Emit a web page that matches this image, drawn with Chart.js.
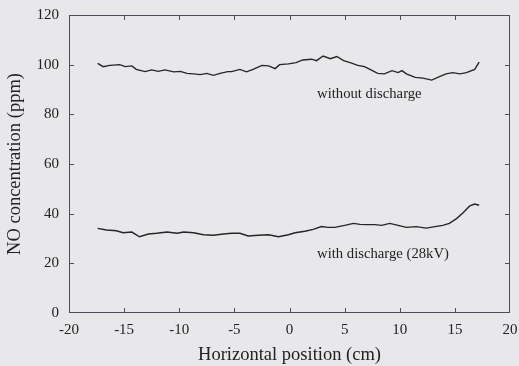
<!DOCTYPE html>
<html>
<head>
<meta charset="utf-8">
<script src="https://cdn.jsdelivr.net/npm/chart.js@4.4.1/dist/chart.umd.min.js"></script>
<style>
  html, body { margin: 0; padding: 0; background: #e8e8eb; }
  canvas { display: block; }
</style>
</head>
<body>
<canvas id="c" width="519" height="366"></canvas>
<script>
// ---- data ----
const upperX = [-17.4,-16.9,-16.3,-15.4,-14.9,-14.3,-13.9,-13.1,-12.5,-11.9,-11.3,-10.5,-9.9,-9.3,-8.7,-8.1,-7.5,-6.9,-6.3,-5.6,-5.25,-4.5,-3.9,-3.3,-2.5,-1.9,-1.3,-0.9,-0.1,0.6,1.2,2.0,2.45,3.05,3.7,4.3,4.9,5.5,6.2,6.8,7.3,8.0,8.6,9.3,9.85,10.2,10.6,11.4,12.1,12.9,13.6,14.2,14.8,15.45,16.05,16.8,17.2];
const upperY = [100.5,99.2,99.7,100,99.2,99.5,98.1,97.2,97.9,97.3,97.9,97.1,97.3,96.5,96.3,96,96.5,95.7,96.5,97.2,97.2,98.1,97.1,98.1,99.7,99.5,98.4,100,100.3,100.8,101.9,102.2,101.6,103.5,102.4,103.3,101.6,100.8,99.7,99.2,98.1,96.5,96.3,97.6,96.8,97.6,96.3,94.9,94.6,93.8,95.2,96.3,96.8,96.3,96.8,98.1,101.0];
const lowerX = [-17.4,-16.6,-15.7,-15.1,-14.3,-13.6,-12.8,-12.05,-11.1,-10.2,-9.6,-8.7,-7.8,-6.9,-6.0,-5.25,-4.5,-3.75,-2.85,-1.9,-1.0,-0.1,0.5,1.4,2.15,2.9,3.5,4.1,5.0,5.8,6.4,7.0,7.75,8.35,9.1,9.85,10.6,11.5,12.4,13.2,13.9,14.5,15.15,15.75,16.35,16.8,17.2];
const lowerY = [34.1,33.4,33.1,32.3,32.6,30.7,31.8,32.1,32.6,32.1,32.6,32.3,31.5,31.3,31.8,32.1,32.1,31.0,31.3,31.5,30.7,31.5,32.3,32.9,33.7,34.8,34.5,34.5,35.3,36.1,35.7,35.6,35.6,35.3,36.1,35.3,34.5,34.8,34.2,34.8,35.3,36.1,38.0,40.4,43.1,43.9,43.4];
const seriesNames = ["without discharge", "with discharge (28kV)"];
const labelX = [2.5, 2.5];
const labelY = [88.2, 23.8];
const xTitle = "Horizontal position (cm)";
const yTitle = "NO concentration (ppm)";

const SERIF = '"Liberation Serif", "DejaVu Serif", serif';
const INK = '#222222';

function pts(xs, ys) { return xs.map((x, i) => ({ x: x, y: ys[i] })); }

const framePlugin = {
  id: 'frame',
  beforeDraw(chart) {
    const ctx = chart.ctx;
    ctx.save();
    ctx.fillStyle = '#e8e8eb';
    ctx.fillRect(0, 0, chart.width, chart.height);
    ctx.restore();
  },
  afterDraw(chart) {
    const ctx = chart.ctx;
    const a = chart.chartArea;
    const xs = chart.scales.x, ys = chart.scales.y;
    ctx.save();
    ctx.strokeStyle = '#4a4e58';
    ctx.lineWidth = 1;
    ctx.strokeRect(Math.round(a.left) + 0.5, Math.round(a.top) + 0.5, Math.round(a.right - a.left) - 1, Math.round(a.bottom - a.top) - 1);
    const TL = 5;
    ctx.beginPath();
    xs.ticks.forEach(t => {
      if (t.value <= xs.min || t.value >= xs.max) return;
      const px = Math.round(xs.getPixelForValue(t.value)) + 0.5;
      ctx.moveTo(px, a.bottom); ctx.lineTo(px, a.bottom - TL);
      ctx.moveTo(px, a.top); ctx.lineTo(px, a.top + TL);
    });
    ys.ticks.forEach(t => {
      if (t.value <= ys.min || t.value >= ys.max) return;
      const py = Math.round(ys.getPixelForValue(t.value)) + 0.5;
      ctx.moveTo(a.left, py); ctx.lineTo(a.left + TL, py);
      ctx.moveTo(a.right, py); ctx.lineTo(a.right - TL, py);
    });
    ctx.stroke();
    // series annotations
    ctx.fillStyle = INK;
    ctx.font = '14.7px ' + SERIF;
    ctx.textAlign = 'left';
    ctx.textBaseline = 'middle';
    seriesNames.forEach((s, i) => {
      ctx.fillText(s, xs.getPixelForValue(labelX[i]), ys.getPixelForValue(labelY[i]));
    });
    ctx.restore();
  }
};

new Chart(document.getElementById('c'), {
  type: 'line',
  data: {
    datasets: [
      { label: seriesNames[0], data: pts(upperX, upperY), borderColor: '#262626', borderWidth: 1.4, pointRadius: 0, tension: 0, fill: false },
      { label: seriesNames[1], data: pts(lowerX, lowerY), borderColor: '#262626', borderWidth: 1.4, pointRadius: 0, tension: 0, fill: false }
    ]
  },
  options: {
    responsive: false,
    animation: false,
    devicePixelRatio: 1,
    layout: { padding: { top: 15, right: 9, left: 0, bottom: 0 } },
    plugins: { legend: { display: false }, tooltip: { enabled: false } },
    scales: {
      x: {
        type: 'linear', min: -20, max: 20,
        ticks: { stepSize: 5, color: INK, font: { family: SERIF, size: 15 }, padding: 8, maxRotation: 0 },
        grid: { display: false, drawTicks: false },
        border: { display: false },
        title: { display: true, text: xTitle, color: INK, font: { family: SERIF, size: 18.5 }, padding: { top: 0, bottom: 0 } },
        afterFit(s) { s.height = 53; s.paddingLeft = 0; s.paddingRight = 0; }
      },
      y: {
        type: 'linear', min: 0, max: 120,
        ticks: { stepSize: 20, color: INK, font: { family: SERIF, size: 15 }, padding: 10 },
        grid: { display: false, drawTicks: false },
        border: { display: false },
        title: { display: true, text: yTitle, color: INK, font: { family: SERIF, size: 18.5 }, padding: { top: 4, bottom: 0 } },
        afterFit(s) { s.width = 69; s.paddingTop = 0; s.paddingBottom = 0; }
      }
    }
  },
  plugins: [framePlugin]
});
</script>
</body>
</html>
